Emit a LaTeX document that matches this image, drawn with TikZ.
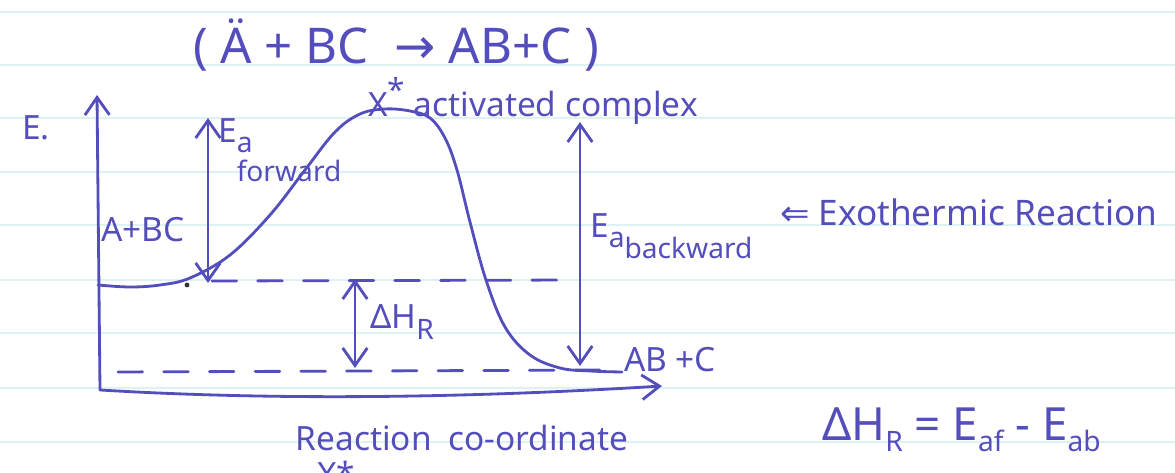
\documentclass[tikz,border=0pt]{standalone}
\usepackage{fontspec}
\setmainfont{Noto Sans}
\newfontfamily\symfont{DejaVu Sans}
\usetikzlibrary{arrows.meta}

\definecolor{ink}{RGB}{84,78,188}
\definecolor{ruling}{RGB}{222,242,244}

\tikzset{
  pen/.style={draw=ink,line width=0.8pt,line cap=round},
  tip/.style={-{Straight Barb[length=5pt,width=7pt]}},
  tips/.style={{Straight Barb[length=5pt,width=7pt]}-{Straight Barb[length=5pt,width=7pt]}},
  level/.style={pen,dash pattern=on 7pt off 6pt},
  lbl/.style={text=ink,inner sep=1pt,font=\fontsize{9.5}{11}\selectfont},
}

\begin{document}
\begin{tikzpicture}[x=0.01cm,y=-0.01cm]
\useasboundingbox (0,0) rectangle (1175,473);
\clip (0,0) rectangle (1175,473);
% ruled paper
\foreach \r in {12,65,118,172,225,280,333,388,442}
  \draw[ruling,line width=0.5pt] (0,\r) -- (1175,\r);

% axes
\coordinate (O) at (100,390);
\coordinate (ytop) at (97,95);
\coordinate (xend) at (662,386);
\draw[pen,tip] (O) -- (ytop);
\draw[pen,tip] (O) .. controls (300,402) and (500,396) .. (xend);
\node[lbl] (elabel) at (36,128) {E.};
\node[lbl] (xlabel) at (462,438) {Reaction\enspace co-ordinate};
\node[lbl] (xcut) at (336,474) {X*};

% energy profile
\draw[pen] plot[smooth,tension=0.6] coordinates {(98,285) (130,287) (160,285)
  (190,278) (230,255) (270,215) (305,170) (335,132) (360,114) (385,109)
  (410,111) (430,118) (445,138) (457,170) (470,222) (486,280) (505,327)
  (530,355) (560,368) (590,371) (622,372)};
\fill[black!80] (187,285) circle (2.4);

% reactant and product levels
\coordinate (rl) at (212,281);
\coordinate (rr) at (575,280);
\coordinate (pl) at (118,372);
\coordinate (pr) at (612,370);
\draw[level] (rl) -- (rr);
\draw[level] (pl) -- (pr);

% activation energies
\coordinate (faTop) at (208,118);
\coordinate (faBot) at (208,283);
\draw[pen,tips] (faTop) -- (faBot);
\coordinate (baTop) at (580,122);
\coordinate (baBot) at (580,366);
\draw[pen,tips] (baTop) -- (baBot);
\coordinate (hTop) at (355,279);
\coordinate (hBot) at (355,368);
\draw[pen,tips] (hTop) -- (hBot);

% labels
\node[lbl,font=\fontsize{14}{16}\selectfont] (title) at (396,45)
  {(\ Ä + BC \ {\symfont →}\ AB+C\ )};
\node[lbl,anchor=west] (peak) at (364,101)
  {X\raisebox{4pt}{\small*}\ activated complex};
\node[lbl,anchor=west] (fwd) at (214,150)
  {E\raisebox{-3pt}{\rlap{\footnotesize a}}\raisebox{-11pt}{\footnotesize forward}};
\node[lbl,anchor=west] (bwd) at (586,236)
  {E\raisebox{-3pt}{\footnotesize a}\raisebox{-6pt}{\footnotesize backward}};
\node[lbl] (react) at (143,230) {A+BC};
\node[lbl] (prod) at (670,360) {AB\ +C};
\node[lbl,anchor=west] (dh) at (366,322) {ΔH\raisebox{-3pt}{\footnotesize R}};
\node[lbl,anchor=west,font=\fontsize{10}{12}\selectfont] (exo) at (776,212)
  {{\symfont ⇐}\ Exothermic Reaction};
\node[lbl,anchor=west,font=\fontsize{13}{15}\selectfont] (eqn) at (818,430)
  {ΔH\raisebox{-3pt}{\footnotesize R} = E\raisebox{-3pt}{\footnotesize af} - E\raisebox{-3pt}{\footnotesize ab}};
\end{tikzpicture}
\end{document}
